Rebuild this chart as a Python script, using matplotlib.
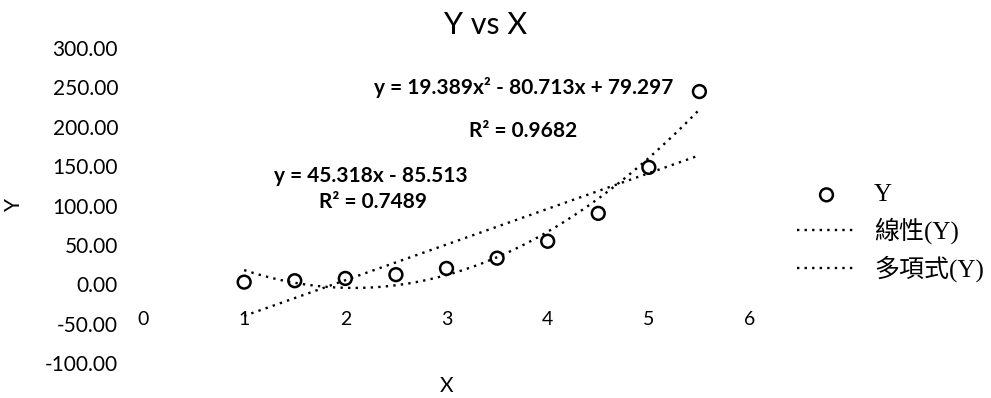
import matplotlib
matplotlib.use("Agg")
import matplotlib.pyplot as plt
import numpy as np

X_VALUES = [1.0, 1.5, 2.0, 2.5, 3.0, 3.5, 4.0, 4.5, 5.0, 5.5]
Y_VALUES = [2.72, 4.48, 7.39, 12.18, 20.09, 33.12, 54.60, 90.02, 148.41, 244.69]
X_TICKS = [0, 1, 2, 3, 4, 5, 6]
Y_TICKS = [-100, -50, 0, 50, 100, 150, 200, 250, 300]
LIN_EQ = "y = 45.318x - 85.513"
LIN_R2 = "R\u00b2 = 0.7489"
POLY_EQ = "y = 19.389x\u00b2 - 80.713x + 79.297"
POLY_R2 = "R\u00b2 = 0.9682"
LEGEND_LABELS = ["Y", "線性(Y)", "多項式(Y)"]

plt.rcParams["font.family"] = ["Lato", "DejaVu Sans"]

fig = plt.figure(figsize=(9.91, 3.98), dpi=100)
W, H = 991, 398
x0, x1 = 143, 750
y_top, y_bot = 48, 363
ax = fig.add_axes([x0 / W, 1 - y_bot / H, (x1 - x0) / W, (y_bot - y_top) / H])

xs = np.array(X_VALUES)
ys = np.array(Y_VALUES)

# trendlines fitted from the data
lin = np.polyfit(xs, ys, 1)
poly = np.polyfit(xs, ys, 2)
xf = np.linspace(xs.min(), xs.max(), 200)
dots = (0, (1, 2.2))
l1, = ax.plot(xf, np.polyval(lin, xf), color="black", lw=1.7, linestyle=dots)
l2, = ax.plot(xf, np.polyval(poly, xf), color="black", lw=1.7, linestyle=dots)
sc = ax.scatter(xs, ys, s=85, facecolors="none", edgecolors="black",
                linewidths=1.8, zorder=3)

ax.set_xlim(0, 6)
ax.set_ylim(-100, 300)
ax.set_xticks(X_TICKS)
ax.set_yticks(Y_TICKS)
ax.set_yticklabels(["{:.2f}".format(v) for v in Y_TICKS])
for s in ["top", "right", "left", "bottom"]:
    ax.spines[s].set_visible(False)
ax.spines["bottom"].set_position(("data", 0))
ax.tick_params(axis="x", length=0, pad=19, labelsize=14)
ax.tick_params(axis="y", length=0, pad=18, labelsize=15)

# equation labels
ax.text(3.76, 250, POLY_EQ, ha="center", va="center", fontsize=15, fontweight="bold")
ax.text(3.76, 195, POLY_R2, ha="center", va="center", fontsize=15, fontweight="bold")
ax.text(2.25, 138, LIN_EQ, ha="center", va="center", fontsize=15, fontweight="bold")
ax.text(2.27, 104, LIN_R2, ha="center", va="center", fontsize=15, fontweight="bold")

fig.text(486 / W, 1 - 25 / H, "Y vs X", ha="center", va="center", fontsize=22)
fig.text(447 / W, 1 - 386 / H, "X", ha="center", va="center", fontsize=15)
fig.text(14 / W, 1 - 205 / H, "Y", ha="center", va="center", fontsize=15, rotation=90)

fig.legend([sc, l1, l2], LEGEND_LABELS, loc="center left",
           bbox_to_anchor=(774 / W, 1 - 233 / H), frameon=False,
           prop={"family": ["Liberation Serif", "Noto Sans CJK TC"], "size": 18},
           handlelength=2.4, handletextpad=0.7, labelspacing=0.45)

fig.savefig("out.png", dpi=100)
